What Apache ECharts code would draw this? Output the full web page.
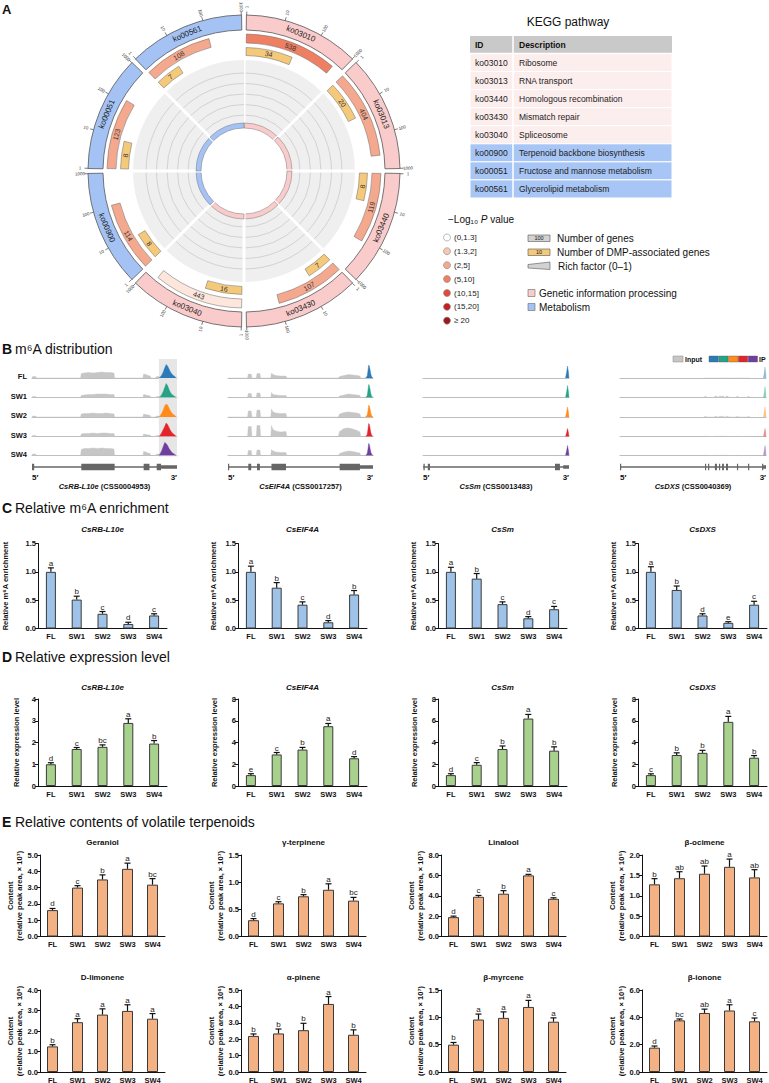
<!DOCTYPE html>
<html>
<head>
<meta charset="utf-8">
<title>m6A figure</title>
<script src="https://cdn.jsdelivr.net/npm/echarts@6.0.0/dist/echarts.min.js"></script>
<style>
html,body{margin:0;padding:0;background:#fff;}
#chart{width:769px;height:1083px;}
</style>
</head>
<body>
<div id="chart"></div>
<script>
// ================= DATA =================
const samples = ['FL', 'SW1', 'SW2', 'SW3', 'SW4'];

// ---- Panel A: KEGG pathways ----
const keggIds = ['ko03010', 'ko03013', 'ko03440', 'ko03430', 'ko03040', 'ko00900', 'ko00051', 'ko00561'];
const keggDesc = ['Ribosome', 'RNA transport', 'Homologous recombination', 'Mismatch repair', 'Spliceosome',
  'Terpenoid backbone biosynthesis', 'Fructose and mannose metabolism', 'Glycerolipid metabolism'];
const keggClass = [0, 0, 0, 0, 0, 1, 1, 1];           // 0 genetic information processing, 1 metabolism
const keggGenes = [538, 404, 119, 107, 443, 114, 123, 108];
const keggDmp = [34, 20, 8, 7, 16, 8, 8, 7];
const keggPBin = [3, 2, 2, 2, 0, 2, 2, 2];             // index into pBins
const pBins = ['(0,1.3]', '(1.3,2]', '(2,5]', '(5,10]', '(10,15]', '(15,20]', '≥ 20'];
const scaleTicks = [1, 10, 100, 1000];
const classNames = ['Genetic information processing', 'Metabolism'];

// ---- Panel B: m6A distribution ----
const geneNames = ['CsRB-L10e', 'CsEIF4A', 'CsSm', 'CsDXS'];
const geneIds = ['CSS0004953', 'CSS0017257', 'CSS0013483', 'CSS0040369'];
const g1InX = [0, 0.5, 2.5, 3, 33.5, 34, 36, 39, 42, 45, 48, 51, 54, 56.5, 57, 76.5, 77, 78.5, 80, 81.5, 82, 85, 86, 87.5, 88, 100];
const g1In = [
  [0, 1.5, 1.5, 0, 0, 4.5, 5, 5.5, 5, 5.5, 6, 5.5, 5.5, 5, 0, 0, 4, 3.5, 2.5, 2, 0, 0, 1.5, 1.5, 0, 0],
  [0, 1, 1, 0, 0, 2, 2.5, 3, 3, 3.5, 3.5, 3.5, 3, 3, 0, 0, 3, 2.5, 2, 1.5, 0, 0, 1, 1, 0, 0],
  [0, 1, 1, 0, 0, 3, 3.5, 3.5, 4, 3.5, 3.5, 4, 3.5, 3, 0, 0, 3, 2.5, 2, 1.5, 0, 0, 1, 1, 0, 0],
  [0, 1, 1, 0, 0, 2.5, 3, 3, 3.5, 3, 3.5, 3.5, 3, 3, 0, 0, 2.5, 2, 1.5, 1.5, 0, 0, 1, 1, 0, 0],
  [0, 1.5, 1.5, 0, 0, 6, 7, 7, 7.5, 7, 7.5, 7, 7, 6.5, 0, 0, 4, 3.5, 2.5, 2, 0, 0, 1.5, 1.5, 0, 0]
];
const g2InX = [0, 13.5, 14, 16, 16.5, 19.5, 20, 22, 22.5, 29.5, 30, 31, 33, 36, 40, 40.5, 76, 77, 80, 83, 86, 89, 91, 91.5, 100];
const g2In = [
  [0, 0, 4, 4, 0, 0, 4.5, 4.5, 0, 0, 5, 3.5, 2.5, 2, 2, 0, 0, 1.5, 2.5, 3.5, 3, 2.5, 2, 0, 0],
  [0, 0, 4, 4, 0, 0, 4.5, 4.5, 0, 0, 5, 3, 2.5, 2, 2, 0, 0, 1.5, 2.5, 3.5, 3, 2.5, 2, 0, 0],
  [0, 0, 6, 6, 0, 0, 7, 7, 0, 0, 8, 5, 4, 3.5, 3.5, 0, 0, 3, 4.5, 5, 4.5, 4, 3, 0, 0],
  [0, 0, 10, 10, 0, 0, 11, 11, 0, 0, 11, 7, 5.5, 4.5, 5, 0, 0, 5, 8, 8.5, 7.5, 6, 4.5, 0, 0],
  [0, 0, 5, 5, 0, 0, 5.5, 5.5, 0, 0, 6, 4.5, 3.5, 3, 3, 0, 0, 2, 3.5, 4.5, 4, 3, 2.5, 0, 0]
];
const g4InX = [57.5, 58.2, 58.9, 59.5, 64.5, 65, 66.4, 67, 67.5, 68, 71, 71.5, 72.2, 72.6, 74, 74.5, 79.6, 80.1, 80.8, 81.3, 87.2, 87.7, 88.4, 88.9];
const g4In = [
  [0, 0, 0, 0, 0, 0, 0, 0, 0, 0, 0, 0, 0, 0, 0, 0, 0, 0, 0, 0, 0, 0, 0, 0],
  [0, 1.2, 1.2, 0, 0, 1.2, 1.2, 0, 0, 1.2, 1.2, 0, 0, 1.2, 1.2, 0, 0, 1.2, 1.2, 0, 0, 1.2, 1.2, 0],
  [0, 0.6, 0.6, 0, 0, 0.6, 0.6, 0, 0, 0.6, 0.6, 0, 0, 0.6, 0.6, 0, 0, 0.6, 0.6, 0, 0, 0.6, 0.6, 0],
  [0, 0.3, 0.3, 0, 0, 0.3, 0.3, 0, 0, 0.3, 0.3, 0, 0, 0.3, 0.3, 0, 0, 0.3, 0.3, 0, 0, 0.3, 0.3, 0],
  [0, 0.3, 0.3, 0, 0, 0.3, 0.3, 0, 0, 0.3, 0.3, 0, 0, 0.3, 0.3, 0, 0, 0.3, 0.3, 0, 0, 0.3, 0.3, 0]
];
const inputX = [g1InX, g2InX, null, g4InX];
const inputY = [g1In, g2In, null, g4In];

const g1IpX = [87.5, 88.5, 89.5, 90.5, 91.5, 92.5, 93.5, 94.5, 95.5, 96.5, 97.5, 98.5, 99.5];
const g1Ip = [
  [0, 1, 3, 6, 10, 13.5, 12, 9, 6, 4, 2.5, 1.5, 0],
  [0, 1, 3, 6, 10, 14, 12, 8, 5, 3, 2, 1, 0],
  [0, 1.5, 4, 7, 11, 13, 12, 9, 6, 4, 2.5, 1.5, 0],
  [0, 1.5, 4, 7, 10, 13.5, 12, 9, 6, 4, 2.5, 1.5, 0],
  [0, 2, 5, 9, 13, 12, 10, 7, 5, 3, 2, 1, 0]
];
const g2IpX = [95, 96, 96.5, 97, 97.5, 98, 98.5, 99, 100];
const g2Ip = [
  [0, 2, 7, 13, 12, 8, 4, 1.5, 0],
  [0, 2, 7, 13, 12, 8, 4, 1.5, 0],
  [0, 2, 6, 12, 11, 8, 4, 1.5, 0],
  [0, 2, 7, 13, 12, 8, 4, 1.5, 0],
  [0, 2, 6, 12, 11, 7, 3.5, 1.5, 0]
];
const g3IpX = [97.6, 98.4, 99, 99.6, 100];
const g3Ip = [
  [0, 6, 12, 6, 0],
  [0, 6, 12, 6, 0],
  [0, 5, 10, 5, 0],
  [0, 4, 8, 4, 0],
  [0, 5, 10, 5, 0]
];
const g4IpX = [98.2, 98.8, 99.3, 99.8, 100];
const g4Ip = [
  [0, 5, 11, 5, 0],
  [0, 5, 11, 5, 0],
  [0, 5, 10, 5, 0],
  [0, 4, 8, 4, 0],
  [0, 5, 10, 5, 0]
];
const ipX = [g1IpX, g2IpX, g3IpX, g4IpX];
const ipY = [g1Ip, g2Ip, g3Ip, g4Ip];
const ipOpacity = [1, 1, 1, 0.5];
const peakHighlight = [[87.5, 100], null, null, null];
// exon model: [start, end, kind] kind 2 = CDS exon, 1 = UTR
const geneExons = [
  [[0, 1.5, 2], [34, 57, 2], [77, 81, 2], [86, 89, 2], [89, 100, 1]],
  [[0, 0.8, 2], [14, 16, 2], [20, 22, 2], [30, 40, 2], [77, 91, 2], [91, 100, 1]],
  [[0.3, 1.2, 2], [3.3, 4.8, 2], [90.4, 93.8, 2], [96, 100, 1]],
  [[0, 0.8, 2], [58.2, 58.9, 2], [60.3, 61, 2], [65, 66.4, 2], [67.8, 68.5, 2], [69.9, 71.2, 2], [72.6, 74, 2], [80.1, 80.8, 2], [87.7, 88.4, 2], [97.3, 98, 2], [98, 100, 1]]
];

// ---- Panel C: relative m6A enrichment ----
const cGenes = ['CsRB-L10e', 'CsEIF4A', 'CsSm', 'CsDXS'];
const cMean = [[1.00, 0.51, 0.26, 0.08, 0.23], [1.00, 0.72, 0.42, 0.11, 0.60], [1.00, 0.88, 0.43, 0.18, 0.34], [1.00, 0.68, 0.23, 0.10, 0.42]];
const cErr = [[0.07, 0.06, 0.04, 0.03, 0.03], [0.10, 0.09, 0.05, 0.03, 0.07], [0.08, 0.09, 0.04, 0.03, 0.05], [0.09, 0.07, 0.03, 0.02, 0.06]];
const cLetters = [['a', 'b', 'c', 'd', 'c'], ['a', 'b', 'c', 'd', 'b'], ['a', 'b', 'c', 'd', 'c'], ['a', 'b', 'd', 'e', 'c']];

// ---- Panel D: relative expression level ----
const dGenes = ['CsRB-L10e', 'CsEIF4A', 'CsSm', 'CsDXS'];
const dMean = [[1.00, 1.70, 1.80, 2.90, 1.95], [1.00, 2.90, 3.35, 5.50, 2.55], [1.00, 1.95, 3.40, 6.20, 3.25], [1.00, 2.85, 3.05, 5.90, 2.60]];
const dErr = [[0.07, 0.07, 0.09, 0.19, 0.14], [0.13, 0.18, 0.20, 0.25, 0.15], [0.13, 0.20, 0.28, 0.38, 0.35], [0.12, 0.20, 0.23, 0.50, 0.20]];
const dLetters = [['d', 'c', 'bc', 'a', 'b'], ['e', 'c', 'b', 'a', 'd'], ['d', 'c', 'b', 'a', 'b'], ['c', 'b', 'b', 'a', 'b']];
const dMax = [4, 8, 8, 8];
const dStep = [1, 2, 2, 2];

// ---- Panel E: volatile terpenoids ----
const eNames = ['Geraniol', 'γ-terpinene', 'Linalool', 'β-ocimene', 'D-limonene', 'α-pinene', 'β-myrcene', 'β-ionone'];
const eExp = ['⁷', '⁷', '⁷', '⁵', '⁶', '⁶', '⁷', '⁵'];
const eMean = [[1.62, 3.00, 3.50, 4.15, 3.18], [0.30, 0.61, 0.74, 0.86, 0.66], [1.90, 3.90, 4.20, 6.00, 3.70], [1.28, 1.43, 1.54, 1.71, 1.45],
  [1.25, 2.43, 2.80, 2.98, 2.60], [2.20, 2.35, 2.55, 4.15, 2.27], [0.50, 0.96, 0.99, 1.19, 0.92], [1.78, 3.78, 4.32, 4.50, 3.71]];
const eErr = [[0.10, 0.12, 0.28, 0.35, 0.37], [0.03, 0.03, 0.03, 0.11, 0.06], [0.10, 0.13, 0.30, 0.10, 0.10], [0.14, 0.16, 0.19, 0.19, 0.19],
  [0.08, 0.17, 0.28, 0.30, 0.25], [0.12, 0.27, 0.42, 0.45, 0.30], [0.04, 0.10, 0.11, 0.12, 0.07], [0.12, 0.10, 0.28, 0.42, 0.24]];
const eLetters = [['d', 'c', 'b', 'a', 'bc'], ['d', 'c', 'b', 'a', 'bc'], ['d', 'c', 'b', 'a', 'c'], ['b', 'ab', 'ab', 'a', 'ab'],
  ['b', 'a', 'a', 'a', 'a'], ['b', 'b', 'b', 'a', 'b'], ['b', 'a', 'a', 'a', 'a'], ['d', 'bc', 'ab', 'a', 'c']];
const eMax = [5, 1.5, 8, 2, 4, 5, 1.5, 6];
const eStep = [1, 0.5, 2, 0.5, 1, 1, 0.5, 2];

// ================= STYLE / LAYOUT =================
const FONT = '"Liberation Sans", Arial, Helvetica, sans-serif';
const catColors = ['#f9cbcb', '#a4c2f4'];
const pColors = ['#fde6dc', '#f8c6b2', '#f4a98f', '#ef7f63', '#e04a3c', '#c42127', '#9c1a1f'];
const dmpColor = '#f5c97a';
const ipColors = ['#2b7bba', '#26a386', '#ff8c1a', '#e3242b', '#6f3fa0'];
const inputColor = '#c6c6c6';

const grids = [], xAxes = [], yAxes = [], series = [], gfx = [];

function T(x, y, text, o) {
  o = o || {};
  const st = {
    text: text, fontSize: o.size || 8, fontWeight: o.weight || 'normal', fontStyle: o.fstyle || 'normal',
    fontFamily: FONT, fill: o.color || '#111',
    align: o.align || 'left', verticalAlign: o.va || 'middle',
    textAlign: o.align || 'left', textVerticalAlign: o.va || 'middle'
  };
  if (o.rich) st.rich = o.rich;
  return { type: 'text', x: x, y: y, rotation: o.rot || 0, silent: true, z: 10, style: st };
}

// ---------- bar chart factory ----------
function errRenderer(letters) {
  return function (params, api) {
    const i = api.value(0), m = api.value(1), e = api.value(2);
    const base = api.coord([i, m]);
    const top = api.coord([i, m + e]);
    const hw = 3;
    return {
      type: 'group', children: [
        { type: 'line', shape: { x1: base[0], y1: base[1], x2: top[0], y2: top[1] }, style: { stroke: '#111', lineWidth: 1.2 } },
        { type: 'line', shape: { x1: top[0] - hw, y1: top[1], x2: top[0] + hw, y2: top[1] }, style: { stroke: '#111', lineWidth: 1.2 } },
        { type: 'text', x: top[0], y: top[1] - 0.5, style: { text: letters[params.dataIndex], fontSize: 8, fontFamily: FONT, fill: '#222',
          align: 'center', verticalAlign: 'bottom', textAlign: 'center', textVerticalAlign: 'bottom' } }
      ]
    };
  };
}

function addBar(cfg) {
  const gi = grids.length;
  grids.push({ left: cfg.left, top: cfg.top, width: cfg.width, height: cfg.height, containLabel: false, outerBoundsMode: 'none' });
  xAxes.push({
    gridIndex: gi, type: 'category', data: samples,
    axisLine: { show: true, lineStyle: { color: '#111', width: 1 } },
    axisTick: { show: false },
    axisLabel: { interval: 0, fontSize: 7.5, fontWeight: 'bold', color: '#111', margin: 4, fontFamily: FONT },
    splitLine: { show: false }
  });
  yAxes.push({
    gridIndex: gi, type: 'value', min: 0, max: cfg.max, interval: cfg.step,
    axisLine: { show: true, lineStyle: { color: '#111', width: 1 } },
    axisTick: { show: true, length: 3, lineStyle: { color: '#111', width: 1 } },
    axisLabel: { fontSize: 7.5, fontWeight: 'bold', color: '#111', margin: 2, fontFamily: FONT,
      formatter: function (v) { return v.toFixed(cfg.dec); } },
    splitLine: { show: false },
    name: cfg.yName, nameLocation: 'middle', nameGap: cfg.nameGap, nameRotate: 90, nameMoveOverlap: false,
    nameTextStyle: { fontSize: 7.5, fontWeight: 'bold', color: '#111', fontFamily: FONT, lineHeight: 9 }
  });
  series.push({
    type: 'bar', xAxisIndex: gi, yAxisIndex: gi, data: cfg.mean, barWidth: cfg.barWidth || 10, silent: true, z: 2,
    itemStyle: { color: cfg.color, borderColor: '#3a3a3a', borderWidth: 1 }
  });
  series.push({
    type: 'custom', xAxisIndex: gi, yAxisIndex: gi, silent: true, z: 3,
    data: cfg.mean.map(function (m, i) { return [i, m, cfg.err[i]]; }),
    renderItem: errRenderer(cfg.letters)
  });
  const tx = cfg.left + cfg.width / 2;
  gfx.push(T(tx, cfg.titleY, cfg.title, { align: 'center', weight: 'bold', size: 8, fstyle: cfg.italic ? 'italic' : 'normal' }));
}

// ---------- Panel C ----------
const cdLeft = [38, 238, 438, 638];
const cNameGap = [28, 20, 20, 20];
cGenes.forEach(function (g, k) {
  addBar({ left: cdLeft[k], top: 543.5, width: 129, height: 85, max: 1.5, step: 0.5, dec: 1,
    mean: cMean[k], err: cErr[k], letters: cLetters[k], color: '#9fc3e8',
    yName: 'Relative m⁶A enrichment', nameGap: cNameGap[k], title: g, italic: true, titleY: 529 });
});

// ---------- Panel D ----------
const dNameGap = [17, 19, 19, 19];
dGenes.forEach(function (g, k) {
  addBar({ left: cdLeft[k], top: 699, width: 129, height: 87, max: dMax[k], step: dStep[k], dec: 0,
    mean: dMean[k], err: dErr[k], letters: dLetters[k], color: '#a9d18e',
    yName: 'Relative expression level', nameGap: dNameGap[k], title: g, italic: true, titleY: 687 });
});

// ---------- Panel E ----------
const eLeft = [40, 241, 441, 642];
eNames.forEach(function (n, k) {
  const row = Math.floor(k / 4), col = k % 4;
  addBar({ left: eLeft[col], top: row === 0 ? 855 : 990, width: 125, height: row === 0 ? 81.5 : 82,
    max: eMax[k], step: eStep[k], dec: 1, barWidth: 11,
    mean: eMean[k], err: eErr[k], letters: eLetters[k], color: '#f4b183',
    yName: 'Content\n(relative peak area, × 10' + eExp[k] + ')', nameGap: 16,
    title: n, italic: false, titleY: row === 0 ? 842 : 977 });
});

// ---------- Panel B tracks ----------
const geneLeft = [32, 228, 423, 620];
const geneWidth = [145, 145, 146, 146];
const trackBase = [378, 397.5, 417, 436.5, 455.5];
const trackH = 19;

function hlRender(params, api) {
  const a = api.coord([api.value(0), trackH]);
  const b = api.coord([api.value(1), 0]);
  return { type: 'rect', shape: { x: a[0], y: a[1], width: b[0] - a[0], height: b[1] - a[1] + 1 }, style: { fill: '#e6e6e6' } };
}
function exonRender(params, api) {
  const p0 = api.coord([api.value(0), 0]);
  const p1 = api.coord([api.value(1), 0]);
  const h = api.value(2) === 2 ? 6.5 : 3.5;
  return { type: 'rect', shape: { x: p0[0], y: p0[1] - h / 2, width: Math.max(p1[0] - p0[0], 1.2), height: h }, style: { fill: '#666' } };
}

geneNames.forEach(function (g, gi) {
  samples.forEach(function (s, si) {
    const idx = grids.length;
    grids.push({ left: geneLeft[gi], top: trackBase[si] - trackH, width: geneWidth[gi], height: trackH, containLabel: false, outerBoundsMode: 'none' });
    xAxes.push({ gridIndex: idx, type: 'value', min: 0, max: 100,
      axisLine: { show: true, onZero: false, lineStyle: { color: '#bdbdbd', width: 1 } },
      axisTick: { show: false }, axisLabel: { show: false }, splitLine: { show: false } });
    yAxes.push({ gridIndex: idx, type: 'value', min: 0, max: trackH, show: false, splitLine: { show: false } });
    if (peakHighlight[gi]) {
      series.push({ type: 'custom', xAxisIndex: idx, yAxisIndex: idx, silent: true, z: 1,
        data: [peakHighlight[gi]], renderItem: hlRender });
    }
    if (inputX[gi]) {
      series.push({ type: 'line', xAxisIndex: idx, yAxisIndex: idx, silent: true, z: 2, symbol: 'none',
        data: inputX[gi].map(function (x, k) { return [x, inputY[gi][si][k]]; }),
        lineStyle: { width: 0.4, color: inputColor }, areaStyle: { color: inputColor, opacity: 1 } });
    }
    series.push({ type: 'line', xAxisIndex: idx, yAxisIndex: idx, silent: true, z: 3, symbol: 'none',
      data: ipX[gi].map(function (x, k) { return [x, ipY[gi][si][k]]; }),
      lineStyle: { width: 0.4, color: ipColors[si], opacity: ipOpacity[gi] },
      areaStyle: { color: ipColors[si], opacity: ipOpacity[gi] } });
  });
  // gene model
  const idx = grids.length;
  grids.push({ left: geneLeft[gi], top: 462, width: geneWidth[gi], height: 10, containLabel: false, outerBoundsMode: 'none' });
  xAxes.push({ gridIndex: idx, type: 'value', min: 0, max: 100, show: false, splitLine: { show: false } });
  yAxes.push({ gridIndex: idx, type: 'value', min: -1, max: 1, show: false, splitLine: { show: false } });
  series.push({ type: 'line', xAxisIndex: idx, yAxisIndex: idx, silent: true, symbol: 'none', z: 2,
    data: [[0, 0], [100, 0]], lineStyle: { color: '#666', width: 1.3 } });
  series.push({ type: 'custom', xAxisIndex: idx, yAxisIndex: idx, silent: true, z: 3,
    data: geneExons[gi], renderItem: exonRender });
  gfx.push(T(geneLeft[gi], 477.5, '5′', { weight: 'bold', size: 8 }));
  gfx.push(T(geneLeft[gi] + geneWidth[gi], 477.5, '3′', { weight: 'bold', size: 8, align: 'right' }));
  gfx.push(T(geneLeft[gi] + geneWidth[gi] / 2, 486, '{i|' + g + '}{n| (' + geneIds[gi] + ')}', { align: 'center',
    rich: { i: { fontStyle: 'italic', fontWeight: 'bold', fontSize: 7.5, fontFamily: FONT, fill: '#111' },
            n: { fontWeight: 'bold', fontSize: 7.5, fontFamily: FONT, fill: '#111' } } }));
});
samples.forEach(function (s, si) {
  gfx.push(T(27, trackBase[si] - 1.5, s, { weight: 'bold', size: 7.5, align: 'right' }));
});
// B legend
gfx.push({ type: 'rect', shape: { x: 673, y: 356, width: 10, height: 6 }, style: { fill: '#c6c6c6', stroke: '#888', lineWidth: 0.5 }, silent: true });
gfx.push(T(685, 359, 'Input', { weight: 'bold', size: 7 }));
ipColors.forEach(function (c, k) {
  gfx.push({ type: 'rect', shape: { x: 709 + k * 9.8, y: 356, width: 9.3, height: 6 }, style: { fill: c, stroke: '#555', lineWidth: 0.4 }, silent: true });
});
gfx.push(T(759, 359, 'IP', { weight: 'bold', size: 7 }));

// ---------- Panel A circular plot ----------
function renderKegg(params, api) {
  const i = params.dataIndex;
  const n = keggIds.length;
  const span = 360 / n;
  const a0 = i * span, a1 = a0 + span;
  const c = api.coord([0, 0]);
  const pt = function (r, a) { return api.coord([r, a]); };
  const ang = function (a) { const p = pt(100, a); return Math.atan2(p[1] - c[1], p[0] - c[0]); };
  const rr = function (r) { const p = pt(r, 0); return Math.hypot(p[0] - c[0], p[1] - c[1]); };
  const sector = function (r0, r1, b0, b1, style) {
    const s = ang(b0); let e = ang(b1); while (e <= s) e += 2 * Math.PI;
    return { type: 'sector', shape: { cx: c[0], cy: c[1], r0: rr(r0), r: rr(r1), startAngle: s, endAngle: e, clockwise: true }, style: style };
  };
  const arc = function (r, b0, b1, style) {
    const s = ang(b0); let e = ang(b1); while (e <= s) e += 2 * Math.PI;
    return { type: 'arc', shape: { cx: c[0], cy: c[1], r: rr(r), startAngle: s, endAngle: e, clockwise: true }, style: style };
  };
  const radial = function (r0, r1, a, style) {
    const p = pt(r0, a), q = pt(r1, a);
    return { type: 'line', shape: { x1: p[0], y1: p[1], x2: q[0], y2: q[1] }, style: style };
  };
  const norm = function (t) { return ((t % 360) + 360) % 360; };
  const tanRot = function (t) { t = norm(t); const d = (t > 90 && t < 270) ? 180 - t : -t; return d * Math.PI / 180; };
  const radRot = function (t) { t = norm(t); const d = (t <= 180) ? 90 - t : 270 - t; return d * Math.PI / 180; };
  const txt = function (str, r, a, rot, size, color) {
    const p = pt(r, a);
    return { type: 'text', x: p[0], y: p[1], rotation: rot, style: { text: str, fontSize: size, fontFamily: FONT, fill: color || '#222',
      align: 'center', verticalAlign: 'middle', textAlign: 'center', textVerticalAlign: 'middle' } };
  };
  const col = catColors[keggClass[i]];
  const ch = [];
  // inner grey disc
  ch.push(sector(48, 111, a0, a1, { fill: '#efefef' }));
  [56, 66.5, 77, 87.5, 98].forEach(function (r) { ch.push(arc(r, a0, a1, { stroke: '#c4c4c4', lineWidth: 0.7, fill: null })); });
  ch.push(radial(42, 112, a0, { stroke: '#ffffff', lineWidth: 3 }));
  // inner ring
  ch.push(sector(43, 48, a0, a1, { fill: col, stroke: '#777', lineWidth: 0.5 }));
  // outer category ring
  ch.push(sector(141, 156, a0 + 0.9, a1 - 0.9, { fill: col, stroke: '#555', lineWidth: 0.8 }));
  ch.push(txt(keggIds[i], 148.5, (a0 + a1) / 2, tanRot((a0 + a1) / 2), 8, '#222'));
  // log scale on outer ring
  const s0 = a0 + 1, s1 = a1 - 1;
  const lpos = function (v) { return s0 + Math.log10(v) / Math.log10(1000) * (s1 - s0); };
  scaleTicks.forEach(function (v) {
    const a = lpos(v);
    ch.push(radial(156, 159.5, a, { stroke: '#444', lineWidth: 0.7 }));
    ch.push(txt(String(v), 164, a, radRot(a), 4.5, '#333'));
  });
  // number of genes bar
  const ag = lpos(keggGenes[i]);
  ch.push(sector(128, 137, s0, ag, { fill: pColors[keggPBin[i]], stroke: '#666', lineWidth: 0.5 }));
  ch.push(txt(String(keggGenes[i]), 132.5, (s0 + ag) / 2, tanRot((s0 + ag) / 2), 7, '#333'));
  // DMP-associated genes bar
  const ad = lpos(keggDmp[i]);
  ch.push(sector(115.5, 123.5, s0, ad, { fill: dmpColor, stroke: '#666', lineWidth: 0.5 }));
  ch.push(txt(String(keggDmp[i]), 119.5, (s0 + ad) / 2, tanRot((s0 + ad) / 2), 7, '#333'));
  return { type: 'group', children: ch };
}
series.push({ type: 'custom', coordinateSystem: 'polar', polarIndex: 0, silent: true, z: 2,
  data: keggIds.map(function (k, i) { return [150, i * 45 + 22.5]; }), renderItem: renderKegg });

// ---------- Panel A legends / table ----------
gfx.push(T(2, 9, 'A', { weight: 'bold', size: 13 }));
gfx.push(T(568, 22, 'KEGG pathway', { size: 12, align: 'center' }));
const tX0 = 470, tX1 = 672, tCol = 513, tTop = 36, tHead = 17.5, tRow = 18.06;
gfx.push({ type: 'rect', shape: { x: tX0, y: tTop, width: tX1 - tX0, height: tHead }, style: { fill: '#c9c9c9' }, silent: true });
gfx.push(T(475, tTop + tHead / 2, 'ID', { weight: 'bold', size: 8.5 }));
gfx.push(T(519, tTop + tHead / 2, 'Description', { weight: 'bold', size: 8.5 }));
keggIds.forEach(function (id, i) {
  const y = tTop + tHead + i * tRow;
  gfx.push({ type: 'rect', shape: { x: tX0, y: y, width: tX1 - tX0, height: tRow }, style: { fill: keggClass[i] ? '#a7c5f5' : '#fdeeee', stroke: '#ffffff', lineWidth: 1 }, silent: true });
  gfx.push(T(475, y + tRow / 2, id, { size: 8.5, color: '#222' }));
  gfx.push(T(519, y + tRow / 2, keggDesc[i], { size: 8.5, color: '#222' }));
});
gfx.push({ type: 'line', shape: { x1: tCol, y1: tTop, x2: tCol, y2: tTop + tHead + keggIds.length * tRow }, style: { stroke: '#ffffff', lineWidth: 1.5 }, silent: true });
gfx.push({ type: 'line', shape: { x1: tX0, y1: tTop + tHead, x2: tX1, y2: tTop + tHead }, style: { stroke: '#ffffff', lineWidth: 1.5 }, silent: true });

gfx.push(T(448, 219, '{n|−Log₁₀ }{i|P}{n| value}', { size: 10, rich: {
  n: { fontSize: 10, fontFamily: FONT, fill: '#111' }, i: { fontSize: 10, fontStyle: 'italic', fontFamily: FONT, fill: '#111' } } }));
const pY = [237.5, 251.2, 265.2, 279, 293, 306.8, 320.6];
pBins.forEach(function (lab, k) {
  gfx.push({ type: 'circle', shape: { cx: 447, cy: pY[k], r: 3.5 }, style: { fill: k === 0 ? '#ffffff' : pColors[k], stroke: '#888', lineWidth: 0.6 }, silent: true });
  gfx.push(T(454, pY[k], lab, { size: 8, color: '#222' }));
});
gfx.push({ type: 'rect', shape: { x: 528, y: 235, width: 22, height: 6.5 }, style: { fill: '#d2d2d2', stroke: '#555', lineWidth: 0.6 }, silent: true });
gfx.push(T(539, 238.3, '100', { size: 5.5, align: 'center' }));
gfx.push(T(557, 238, 'Number of genes', { size: 10 }));
gfx.push({ type: 'rect', shape: { x: 528, y: 249, width: 22, height: 6.5 }, style: { fill: dmpColor, stroke: '#555', lineWidth: 0.6 }, silent: true });
gfx.push(T(539, 252.3, '10', { size: 5.5, align: 'center' }));
gfx.push(T(557, 252, 'Number of DMP-associated genes', { size: 10 }));
gfx.push({ type: 'polygon', shape: { points: [[528, 264.5], [550, 262], [550, 269.5], [528, 268]] }, style: { fill: '#d2d2d2', stroke: '#555', lineWidth: 0.6 }, silent: true });
gfx.push(T(558, 266, 'Rich factor (0–1)', { size: 10 }));
classNames.forEach(function (nm, k) {
  const y = k === 0 ? 293 : 307;
  gfx.push({ type: 'rect', shape: { x: 528, y: y - 3.5, width: 7, height: 7 }, style: { fill: catColors[k], stroke: '#666', lineWidth: 0.6 }, silent: true });
  gfx.push(T(539, y, nm, { size: 10 }));
});

// ---------- panel headings ----------
gfx.push(T(2, 349, 'B', { weight: 'bold', size: 14 }));
gfx.push(T(15, 349, 'm⁶A distribution', { size: 14 }));
gfx.push(T(2, 508, 'C', { weight: 'bold', size: 14 }));
gfx.push(T(15, 508, 'Relative m⁶A enrichment', { size: 14 }));
gfx.push(T(2, 657, 'D', { weight: 'bold', size: 14 }));
gfx.push(T(15, 657, 'Relative expression level', { size: 14 }));
gfx.push(T(2, 822, 'E', { weight: 'bold', size: 14 }));
gfx.push(T(15, 822, 'Relative contents of volatile terpenoids', { size: 14 }));

// ================= CHART =================
const chart = echarts.init(document.getElementById('chart'), null, { renderer: 'svg', width: 769, height: 1083 });
chart.setOption({
  animation: false,
  backgroundColor: '#ffffff',
  textStyle: { fontFamily: FONT },
  grid: grids,
  xAxis: xAxes,
  yAxis: yAxes,
  polar: { center: [244, 171], radius: 165 },
  radiusAxis: { polarIndex: 0, type: 'value', min: 0, max: 165, axisLine: { show: false }, axisTick: { show: false }, axisLabel: { show: false }, splitLine: { show: false } },
  angleAxis: { polarIndex: 0, type: 'value', min: 0, max: 360, startAngle: 90, clockwise: true, axisLine: { show: false }, axisTick: { show: false }, axisLabel: { show: false }, splitLine: { show: false } },
  series: series,
  graphic: { elements: gfx }
});
</script>
</body>
</html>
